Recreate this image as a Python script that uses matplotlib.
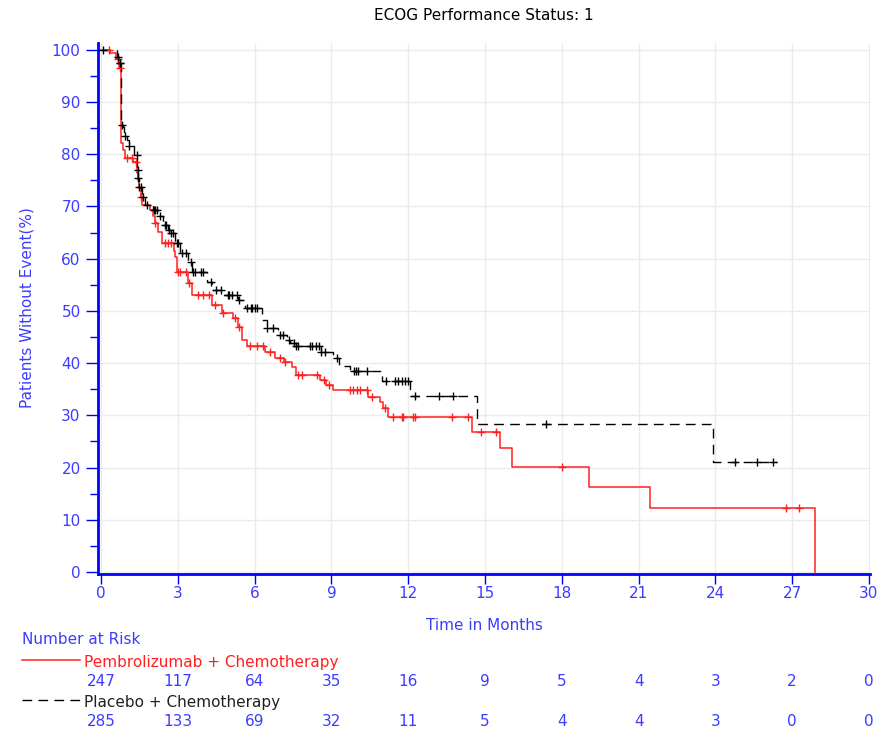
import numpy as np
import matplotlib
matplotlib.use("Agg")
import matplotlib.pyplot as plt

# ---------------- data ----------------
title = "ECOG Performance Status: 1"
x_label = "Time in Months"
y_label = "Patients Without Event(%)"
arm_names = ["Pembrolizumab + Chemotherapy", "Placebo + Chemotherapy"]

red_t = [0, 0.35, 0.6, 0.7, 0.78, 0.87, 0.94, 1.26, 1.39, 1.42, 1.45, 1.5, 1.55, 1.59,
         1.91, 2.04, 2.11, 2.24, 2.37, 2.83, 2.9, 2.96, 3.41, 3.54, 4.35, 4.71, 5.17,
         5.36, 5.5, 5.69, 6.4, 6.8, 7.15, 7.45, 7.62, 8.55, 8.8, 9.07, 10.44, 10.9,
         11.03, 11.22, 14.5, 15.6, 16.04, 19.07, 21.46, 27.88]
red_s = [100, 99.4, 98.3, 96.5, 82.1, 80.8, 79.2, 78.6, 78.0, 76.5, 75.1, 73.5, 71.9, 70.3,
         69.3, 68.1, 66.8, 65.2, 63.0, 61.5, 60.4, 57.5, 55.3, 53.1, 51.1, 49.6, 48.6,
         47.0, 44.4, 43.3, 42.2, 40.9, 40.3, 39.3, 37.7, 36.8, 35.8, 34.9, 33.6, 32.6,
         31.4, 29.6, 26.9, 23.7, 20.2, 16.3, 12.3, 0]
red_cens = [0.3, 0.65, 0.72, 1.0, 1.2, 1.35, 1.55, 2.11, 2.5, 2.6, 2.73, 3.0, 3.1, 3.3,
            3.45, 3.8, 4.0, 4.2, 4.45, 4.78, 5.25, 5.4, 5.82, 6.08, 6.34, 6.6, 7.0, 7.2,
            7.71, 7.84, 8.45, 8.7, 8.9, 9.73, 9.86, 9.99, 10.12, 10.38, 10.6, 11.1, 11.42,
            11.75, 11.81, 12.2, 12.27, 13.7, 14.35, 14.83, 15.42, 18.02, 26.76, 27.25]

blk_t = [0, 0.61, 0.7, 0.77, 0.85, 0.91, 1.0, 1.1, 1.3, 1.42, 1.45, 1.48, 1.59, 1.72,
         2.04, 2.24, 2.4, 2.6, 2.75, 2.89, 3.09, 3.41, 3.54, 4.13, 4.32, 4.78, 5.36,
         5.63, 6.28, 6.47, 6.93, 7.28, 7.38, 7.6, 8.6, 9.07, 9.3, 9.73, 10.96, 12.07,
         14.7, 23.9, 26.4]
blk_s = [100, 98.7, 97.5, 85.6, 85.3, 83.4, 82.8, 81.5, 79.9, 77.0, 75.4, 73.8, 71.9, 70.3,
         69.3, 68.1, 66.5, 65.5, 64.9, 63.0, 61.1, 59.4, 57.5, 55.6, 54.0, 53.1, 52.1,
         50.5, 48.3, 46.7, 45.4, 44.5, 43.8, 43.2, 42.2, 40.9, 39.5, 38.4, 36.5, 33.7,
         28.3, 21.1, 21.1]
blk_cens = [0.09, 0.68, 0.72, 0.75, 0.8, 0.95, 1.1, 1.4, 1.43, 1.46, 1.5, 1.55, 1.62, 1.8,
            2.05, 2.1, 2.2, 2.3, 2.5, 2.55, 2.65, 2.75, 2.8, 2.95, 3.0, 3.15, 3.3, 3.5,
            3.6, 3.65, 3.9, 4.0, 4.3, 4.5, 4.7, 4.95, 5.0, 5.1, 5.3, 5.4, 5.7, 5.85, 5.9,
            6.0, 6.1, 6.5, 6.7, 7.0, 7.1, 7.35, 7.55, 7.6, 7.7, 8.15, 8.25, 8.4, 8.5,
            8.6, 8.75, 9.2, 9.88, 9.96, 10.05, 10.4, 11.13, 11.48, 11.61, 11.75, 11.88,
            12.0, 12.27, 13.2, 13.76, 17.38, 24.78, 25.61, 26.26]

risk_times = [0, 3, 6, 9, 12, 15, 18, 21, 24, 27, 30]
risk_red = [247, 117, 64, 35, 16, 9, 5, 4, 3, 2, 0]
risk_blk = [285, 133, 69, 32, 11, 5, 4, 4, 3, 0, 0]

# ---------------- style ----------------
BLUE = "#0000ff"
TBLUE = "#3c3cff"
RED = "#ff2020"
FS = 11
plt.rcParams["font.family"] = ["DejaVu Sans"]

fig = plt.figure(figsize=(8.94, 7.34), dpi=100)
ax = fig.add_axes([98 / 894, 1 - 574 / 734, (870 - 98) / 894, (574 - 43) / 734])


def step_value(t_arr, s_arr, t):
    idx = np.searchsorted(np.asarray(t_arr), t, side="right") - 1
    return np.asarray(s_arr)[idx]


dash = (0, (7, 4.5))
ax.step(red_t, red_s, where="post", color=RED, lw=1.1, zorder=3)
ax.step(blk_t, blk_s, where="post", color="black", lw=1.0, ls=dash, zorder=3)
ax.plot(red_cens, step_value(red_t, red_s, red_cens), ls="none", marker="+",
        color=RED, ms=6, mew=1.0, zorder=4)
ax.plot(blk_cens, step_value(blk_t, blk_s, blk_cens), ls="none", marker="+",
        color="black", ms=6, mew=1.0, zorder=4)

ax.set_xlim(-0.12, 30.04)
ax.set_ylim(-0.38, 101.3)
ax.set_xticks(np.arange(0, 31, 3))
ax.set_yticks(np.arange(0, 101, 10))
ax.set_yticks(np.arange(5, 100, 10), minor=True)
ax.grid(True, which="major", color="#ebebeb", lw=1.0, zorder=0)
ax.set_axisbelow(True)

for s in ["top", "right"]:
    ax.spines[s].set_visible(False)
for s in ["left", "bottom"]:
    ax.spines[s].set_color(BLUE)
    ax.spines[s].set_linewidth(2)

ax.tick_params(axis="y", which="major", direction="out", length=8.5, width=1,
               color=BLUE, labelcolor=TBLUE, labelsize=FS, pad=4)
ax.tick_params(axis="y", which="minor", direction="out", length=5.5, width=1, color=BLUE)
ax.tick_params(axis="x", which="major", direction="out", length=7, width=1,
               color=BLUE, labelcolor=TBLUE, labelsize=FS, pad=2)

fig.text(484 / 894, 1 - 15 / 734, title, ha="center", va="center", fontsize=FS, color="black")
fig.text(27 / 894, 1 - 308 / 734, y_label, ha="center", va="center", rotation=90,
         fontsize=FS, color=TBLUE)
fig.text(484 / 894, 1 - 625 / 734, x_label, ha="center", va="center", fontsize=FS, color=TBLUE)

# ---------------- number at risk ----------------
fig.text(22 / 894, 1 - 639 / 734, "Number at Risk", ha="left", va="center", fontsize=FS, color=TBLUE)
fig.add_artist(plt.Line2D([22 / 894, 80 / 894], [1 - 660 / 734] * 2, color=RED, lw=1.1))
fig.text(84 / 894, 1 - 663 / 734, arm_names[0], ha="left", va="center", fontsize=FS, color=RED)
fig.add_artist(plt.Line2D([22 / 894, 80 / 894], [1 - 700 / 734] * 2, color="black", lw=1.0, ls=dash))
fig.text(84 / 894, 1 - 703 / 734, arm_names[1], ha="left", va="center", fontsize=FS, color="#202020")

trans = matplotlib.transforms.blended_transform_factory(ax.transData, fig.transFigure)
for t, a, b in zip(risk_times, risk_red, risk_blk):
    ax.text(t, 1 - 681 / 734, str(a), transform=trans, ha="center", va="center",
            fontsize=FS, color=TBLUE, clip_on=False)
    ax.text(t, 1 - 721 / 734, str(b), transform=trans, ha="center", va="center",
            fontsize=FS, color=TBLUE, clip_on=False)

fig.savefig("out.png", dpi=100)
